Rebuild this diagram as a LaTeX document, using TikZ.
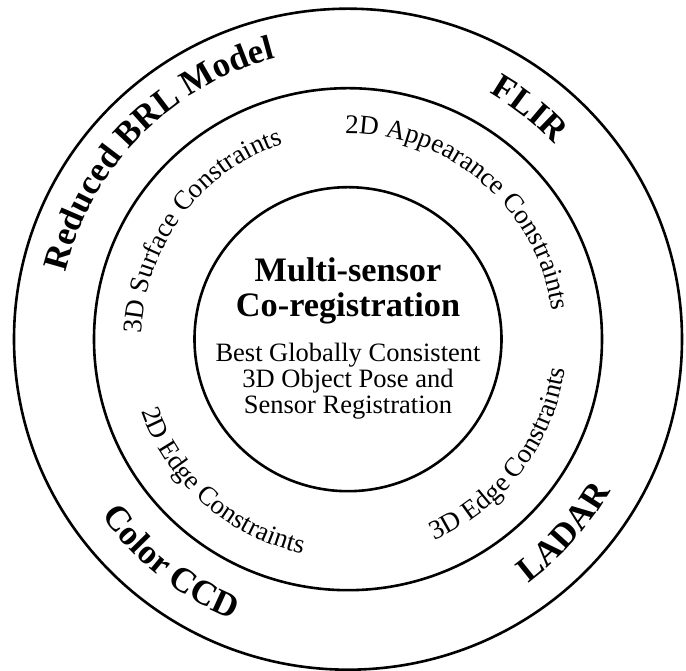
\documentclass[tikz,border=0pt]{standalone}
\usepackage{fontspec}
\setmainfont{Liberation Serif}
\usetikzlibrary{decorations.text}
\begin{document}
\begin{tikzpicture}[x=1pt,y=1pt,
  ring/.style={line width=2.6pt},
  title/.style={font=\fontsize{34.3}{34.3}\selectfont\bfseries, anchor=base, inner sep=0pt},
  body/.style={font=\fontsize{26.5}{26.5}\selectfont, anchor=base, inner sep=0pt},
  outerlbl/.style={decorate, decoration={text along path, text align=center,
     text={|\bfseries\fontsize{35}{35}\selectfont|#1}}},
  innerlbl/.style={decorate, decoration={text along path, text align=center,
     text={|\fontsize{27}{27}\selectfont|#1}}}]
\useasboundingbox (0,0) rectangle (686,671);
\coordinate (O) at (348,331.8);
% rings
\draw[ring] (O) ellipse [x radius=334, y radius=330.5];
\draw[ring] (O) ellipse [x radius=254, y radius=251];
\draw[ring] (O) ellipse [x radius=153.5, y radius=152];
% centre texts
\node[title] (t1) at (348,389.3) {Multi-sensor};
\node[title] (t2) at (348,354.3) {Co-registration};
\node[body] (b1) at (348,309.3) {Best Globally Consistent};
\node[body] (b2) at (348,283.7) {3D Object Pose and};
\node[body] (b3) at (348,257.7) {Sensor Registration};
% outer ring labels
\path[outerlbl={Reduced BRL Model}] (O) ++(205.5:290) arc[start angle=205.5, end angle=65.5, radius=290];
\path[outerlbl={FLIR}] (O) ++(111.7:284) arc[start angle=111.7, end angle=-8.3, radius=284];
\path[outerlbl={Color CCD}] (O) ++(161.6:303) arc[start angle=161.6, end angle=301.6, radius=303];
\path[outerlbl={LADAR}] (O) ++(258.2:303) arc[start angle=258.2, end angle=378.2, radius=303];
% inner ring labels
\path[innerlbl={3D Surface Constraints}] (O) ++(223.4:206) arc[start angle=223.4, end angle=63.4, radius=206];
\path[innerlbl={2D Appearance Constraints}] (O) ++(129.3:206) arc[start angle=129.3, end angle=-30.7, radius=206];
\path[innerlbl={2D Edge Constraints}] (O) ++(148.6:219) arc[start angle=148.6, end angle=308.6, radius=219];
\path[innerlbl={3D Edge Constraints}] (O) ++(242.7:219) arc[start angle=242.7, end angle=402.7, radius=219];
\end{tikzpicture}
\end{document}
